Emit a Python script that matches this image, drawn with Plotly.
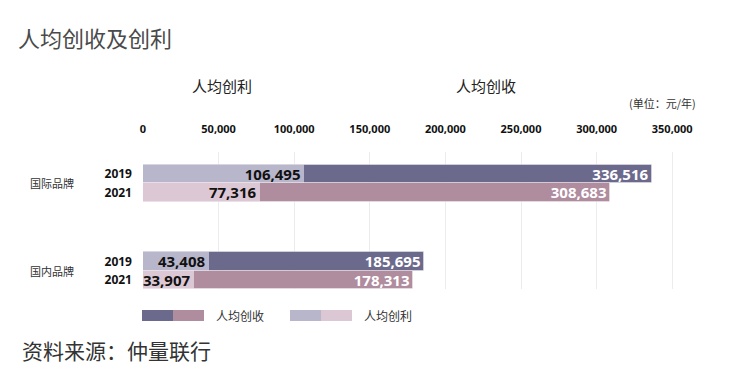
import plotly.graph_objects as go

# ---- data ----
groups = ["国际品牌", "国内品牌"]
years = ["2019", "2021"]
revenue = {"国际品牌": [336516, 308683], "国内品牌": [185695, 178313]}
profit = {"国际品牌": [106495, 77316], "国内品牌": [43408, 33907]}
x_ticks = [0, 50000, 100000, 150000, 200000, 250000, 300000, 350000]

rev_colors = ["#6c6a8c", "#b08c9f"]
pro_colors = ["#b8b6cb", "#dcc8d4"]

W, H = 744, 380
L, R, T, B = 143, 702, 152, 289
GROUP_STEP = 4.76


def px_x(p):
    return (p - L) / (R - L)


def px_y(p):
    return (B - p) / (B - T)


pos, rev_vals, pro_vals, rc, pc, ylabels = [], [], [], [], [], []
for gi, g in enumerate(groups):
    for yi, yr in enumerate(years):
        pos.append(gi * GROUP_STEP + yi)
        rev_vals.append(revenue[g][yi])
        pro_vals.append(profit[g][yi])
        rc.append(rev_colors[yi])
        pc.append(pro_colors[yi])
        ylabels.append(yr)

fmt = lambda v: f"{v:,}"
NUM_FONT = "Noto Sans, Open Sans, sans-serif"
CJK = "Noto Sans CJK SC, sans-serif"

fig = go.Figure()
fig.add_trace(go.Bar(
    y=pos, x=rev_vals, orientation="h", width=1,
    marker=dict(color=rc, line=dict(color="rgba(255,255,255,0.35)", width=1)),
    text=[fmt(v) for v in rev_vals], textposition="inside", insidetextanchor="end",
    textfont=dict(family=NUM_FONT, size=15, color="white", weight="bold"),
    hoverinfo="skip", showlegend=False,
))
fig.add_trace(go.Bar(
    y=pos, x=pro_vals, orientation="h", width=1,
    marker=dict(color=pc, line=dict(color="rgba(255,255,255,0.35)", width=1)),
    text=[fmt(v) for v in pro_vals], textposition="inside", insidetextanchor="end",
    textfont=dict(family=NUM_FONT, size=15, color="#111111", weight="bold"),
    hoverinfo="skip", showlegend=False,
))

annotations = [
    dict(text="人均创收及创利", x=px_x(16), y=px_y(37), xanchor="left", yanchor="middle",
         font=dict(family=CJK, size=22, color="#4a4a4a")),
    dict(text="人均创利", x=px_x(222), y=px_y(85), xanchor="center", yanchor="middle",
         font=dict(family=CJK, size=15, color="#222222")),
    dict(text="人均创收", x=px_x(486), y=px_y(85), xanchor="center", yanchor="middle",
         font=dict(family=CJK, size=15, color="#222222")),
    dict(text="(单位：元/年)", x=px_x(698), y=px_y(103), xanchor="right", yanchor="middle",
         font=dict(family=CJK, size=11, color="#333333")),
    dict(text="资料来源：仲量联行", x=px_x(20), y=px_y(350), xanchor="left", yanchor="middle",
         font=dict(family=CJK, size=21, color="#333333")),
    dict(text="人均创收", x=px_x(214), y=px_y(315), xanchor="left", yanchor="middle",
         font=dict(family=CJK, size=12, color="#333333")),
    dict(text="人均创利", x=px_x(362), y=px_y(315), xanchor="left", yanchor="middle",
         font=dict(family=CJK, size=12, color="#333333")),
]
for gi, g in enumerate(groups):
    annotations.append(dict(text=g, xref="paper", yref="y", x=px_x(76), y=gi * GROUP_STEP + 0.5,
                            xanchor="right", yanchor="middle",
                            font=dict(family=CJK, size=11, color="#333333")))
for a in annotations:
    a.setdefault("xref", "paper")
    a.setdefault("yref", "paper")
    a["showarrow"] = False

shapes = []
for (x0, x1, col) in [(142, 173, rev_colors[0]), (173, 204, rev_colors[1]),
                      (290, 321, pro_colors[0]), (321, 352, pro_colors[1])]:
    shapes.append(dict(type="rect", xref="paper", yref="paper", x0=px_x(x0), x1=px_x(x1),
                       y0=px_y(321), y1=px_y(310), fillcolor=col, line=dict(width=0)))

fig.update_layout(
    width=W, height=H, margin=dict(l=L, r=W - R, t=T, b=H - B),
    paper_bgcolor="white", plot_bgcolor="white",
    barmode="overlay", bargap=0,
    uniformtext=dict(minsize=15, mode="show"),
    xaxis=dict(side="top", range=[0, (R - L) / 75.6 * 50000], tickvals=x_ticks,
               ticktext=[fmt(v) for v in x_ticks], showgrid=True, gridcolor="#ececec",
               gridwidth=1, zeroline=False, showline=False, ticks="",
               ticklabelstandoff=16,
               tickfont=dict(family=NUM_FONT, size=11, color="#111111", weight="bold")),
    yaxis=dict(range=[GROUP_STEP + 1.5, -1.21], tickvals=pos, ticktext=ylabels,
               showgrid=False, zeroline=False, showline=False, ticks="",
               ticklabelstandoff=10,
               tickfont=dict(family=NUM_FONT, size=12, color="#111111", weight="bold")),
    annotations=annotations, shapes=shapes,
)

fig.write_html("out.html")
